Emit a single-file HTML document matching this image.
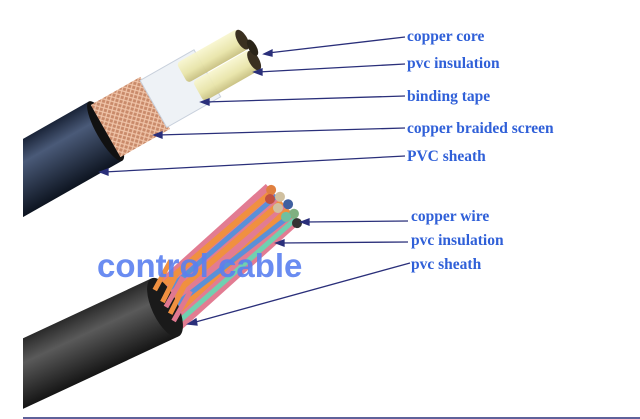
<!DOCTYPE html>
<html><head><style>
body{margin:0;background:#fff;width:640px;height:419px;overflow:hidden}
svg{display:block}
.l{font-family:"Liberation Serif",serif;font-weight:bold;font-size:15.5px;fill:#3060d8}
</style></head><body>
<svg width="640" height="419" viewBox="0 0 640 419">
<defs>
<linearGradient id="jk" x1="0" y1="0" x2="0" y2="1"><stop offset="0" stop-color="#1a2438"/><stop offset="0.3" stop-color="#4a5a78"/><stop offset="1" stop-color="#0d1420"/></linearGradient>
<linearGradient id="jk2" x1="0" y1="0" x2="0" y2="1"><stop offset="0" stop-color="#2a2a2a"/><stop offset="0.35" stop-color="#5a5a5a"/><stop offset="1" stop-color="#151515"/></linearGradient>
<linearGradient id="cy" x1="0" y1="0" x2="0" y2="1"><stop offset="0" stop-color="#f8f6d0"/><stop offset="0.6" stop-color="#e8e4a8"/><stop offset="1" stop-color="#c8c080"/></linearGradient>
<pattern id="br" width="6" height="6" patternUnits="userSpaceOnUse"><rect width="6" height="6" fill="#c98a6a"/><path d="M0 6L6 0M0 0L6 6" stroke="#f0c4a8" stroke-width="1.2"/></pattern>
</defs>
<g transform="translate(23,178) rotate(-29.6)">
<rect x="-30" y="-34" width="125" height="68" fill="url(#jk)"/>
<rect x="92" y="-30" width="60" height="60" fill="url(#br)"/>
<ellipse cx="95" cy="0" rx="9" ry="34" fill="#111"/>
<rect x="95" y="-30" width="10" height="60" fill="url(#br)"/>
<rect x="150" y="-27" width="62" height="54" fill="#eef2f6" stroke="#c8d0dc"/>
<rect x="190" y="-24" width="70" height="23" rx="4" fill="url(#cy)" opacity="0.95"/>
<rect x="195" y="0" width="65" height="23" rx="4" fill="url(#cy)" opacity="0.95"/>
<ellipse cx="259" cy="-12" rx="5" ry="11" fill="#3a3020"/>
<ellipse cx="259" cy="12" rx="5" ry="11" fill="#3a3020"/>
<ellipse cx="264" cy="0" rx="4" ry="9" fill="#2a2418"/>
</g>
<g transform="translate(168,307) rotate(-42)">
<rect x="-10" y="-26" width="165" height="52" fill="#e27c92"/>
<path d="M0,-20 L155,-16 M0,-6 L155,-2 M0,10 L155,8" stroke="#f09040" stroke-width="6"/>
<path d="M0,-13 L155,-10 M0,3 L155,14" stroke="#5a90d8" stroke-width="5"/>
<path d="M0,18 L155,20" stroke="#70d0b0" stroke-width="5"/>
<g><circle cx="155" cy="-18" r="5" fill="#e08040"/><circle cx="157" cy="-7" r="5" fill="#d0c0a0"/><circle cx="158" cy="4" r="5" fill="#4060a0"/><circle cx="156" cy="15" r="5" fill="#80b080"/><circle cx="148" cy="-12" r="5" fill="#c05040"/><circle cx="148" cy="0" r="5" fill="#d0c0a0"/><circle cx="148" cy="12" r="5" fill="#70c0a0"/><circle cx="152" cy="24" r="5" fill="#333"/></g>
</g>
<g transform="translate(20,375) rotate(-25)">
<rect x="-30" y="-32" width="190" height="64" fill="url(#jk2)"/>
<ellipse cx="160" cy="0" rx="13" ry="32" fill="#1a1a1a"/>
<path d="M158,-20 L185,-40 M160,-6 L188,-28 M162,8 L190,-14" stroke="#f09040" stroke-width="5"/>
<path d="M161,0 L189,-20 M162,16 L190,-4" stroke="#e07890" stroke-width="5"/>
</g>
<rect x="0" y="0" width="23" height="419" fill="#fff"/>
<g stroke="#2a2f7a" stroke-width="1.3" fill="#2a2f7a">
<line x1="268" y1="53" x2="405" y2="37"/><polygon points="264,54 272,50 272,56"/>
<line x1="258" y1="72" x2="405" y2="64"/><polygon points="254,72 262,69 262,75"/>
<line x1="205" y1="102" x2="405" y2="96"/><polygon points="201,102 209,99 209,105"/>
<line x1="158" y1="135" x2="405" y2="128"/><polygon points="154,135 162,132 162,138"/>
<line x1="104" y1="172" x2="405" y2="156"/><polygon points="100,172 108,169 108,175"/>
<line x1="305" y1="222" x2="408" y2="221"/><polygon points="301,222 309,219 309,225"/>
<line x1="280" y1="243" x2="408" y2="242"/><polygon points="276,243 284,240 284,246"/>
<line x1="192" y1="323" x2="410" y2="263"/><polygon points="188,324 196,319 197,325"/>
</g>
<line x1="23" y1="418" x2="640" y2="418" stroke="#2a2f7a" stroke-width="1.5"/>
<text class="l" x="407" y="41">copper core</text>
<text class="l" x="407" y="68">pvc insulation</text>
<text class="l" x="407" y="101">binding tape</text>
<text class="l" x="407" y="133">copper braided screen</text>
<text class="l" x="407" y="161">PVC sheath</text>
<text class="l" x="411" y="221">copper wire</text>
<text class="l" x="411" y="245">pvc insulation</text>
<text class="l" x="411" y="269">pvc sheath</text>
<text x="97" y="277" font-family="Liberation Sans,sans-serif" font-weight="bold" font-size="33" fill="#5a80f0" fill-opacity="0.9">control cable</text>
</svg>
</body></html>
